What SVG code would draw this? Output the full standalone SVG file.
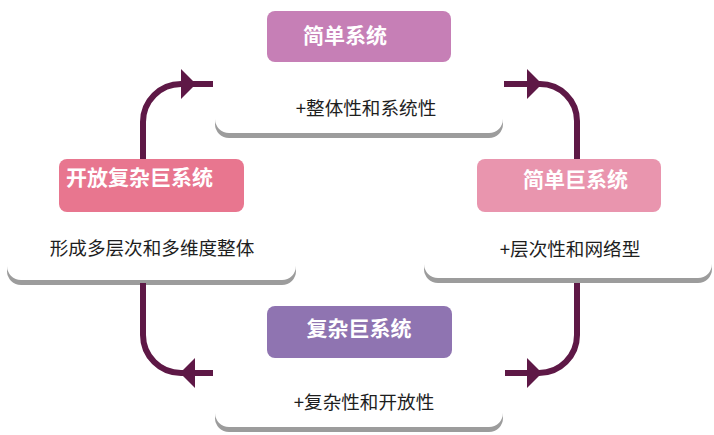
<svg xmlns="http://www.w3.org/2000/svg" xmlns:xlink="http://www.w3.org/1999/xlink" width="714" height="435" viewBox="0 0 714 435">
<style>
.shadow{fill:#9c9c9c}
.card{fill:#ffffff}
.title{font-family:"Noto Sans CJK SC","Noto Sans",sans-serif;font-weight:bold;font-size:21px;fill:#ffffff}
.body{font-family:"Noto Sans CJK SC","Noto Sans",sans-serif;font-size:18.6px;fill:#1e1e1e;text-anchor:middle}
.conn{fill:none;stroke:#5e1846;stroke-width:6}
.head{fill:#5e1846}
</style>
<defs>
<polygon id="ah" points="-15,-15 0,0 -15,15"/>
</defs>
<rect width="714" height="435" fill="#ffffff"/>

<g id="card-top">
<rect class="shadow" x="215" y="78" width="288" height="60" rx="14"/>
<rect class="card" x="215" y="73" width="288" height="60" rx="14"/>
<text class="body" x="366" y="115">+整体性和系统性</text>
</g>
<g id="card-left">
<rect class="shadow" x="7" y="220" width="289" height="65" rx="14"/>
<rect class="card" x="7" y="215" width="289" height="65" rx="14"/>
<text class="body" x="152" y="255">形成多层次和多维度整体</text>
</g>
<g id="card-right">
<rect class="shadow" x="424" y="218" width="288" height="65" rx="14"/>
<rect class="card" x="424" y="213" width="288" height="65" rx="14"/>
<text class="body" x="570" y="256">+层次性和网络型</text>
</g>
<g id="card-bottom">
<rect class="shadow" x="215" y="367" width="288" height="65" rx="14"/>
<rect class="card" x="215" y="362" width="288" height="65" rx="14"/>
<text class="body" x="364" y="409">+复杂性和开放性</text>
</g>

<g id="connectors">
<path class="conn" d="M143,160 V122 A38,38 0 0 1 181,84 H213"/>
<use xlink:href="#ah" class="head" transform="translate(196,84)"/>
<path class="conn" d="M504,84 H540 A37,37 0 0 1 577,121 V160"/>
<use xlink:href="#ah" class="head" transform="translate(542,84)"/>
<path class="conn" d="M143,283 V335 A38,38 0 0 0 181,373 H213"/>
<use xlink:href="#ah" class="head" transform="translate(180,373) rotate(180)"/>
<path class="conn" d="M577,283 V335 A38,38 0 0 1 539,373 H505"/>
<use xlink:href="#ah" class="head" transform="translate(542,373)"/>
</g>

<g id="node-simple">
<rect x="267" y="11" width="184" height="51" rx="8" fill="#c67fb6"/>
<text class="title" x="303" y="43">简单系统</text>
</g>
<g id="node-open">
<rect x="59" y="159" width="185" height="53" rx="8" fill="#e8768f"/>
<text class="title" x="66" y="185">开放复杂巨系统</text>
</g>
<g id="node-simple-giant">
<rect x="477" y="159" width="184" height="53" rx="8" fill="#e995ae"/>
<text class="title" x="523" y="187">简单巨系统</text>
</g>
<g id="node-complex">
<rect x="267" y="306" width="185" height="52" rx="8" fill="#8f74b1"/>
<text class="title" x="359" y="336" text-anchor="middle">复杂巨系统</text>
</g>
</svg>
